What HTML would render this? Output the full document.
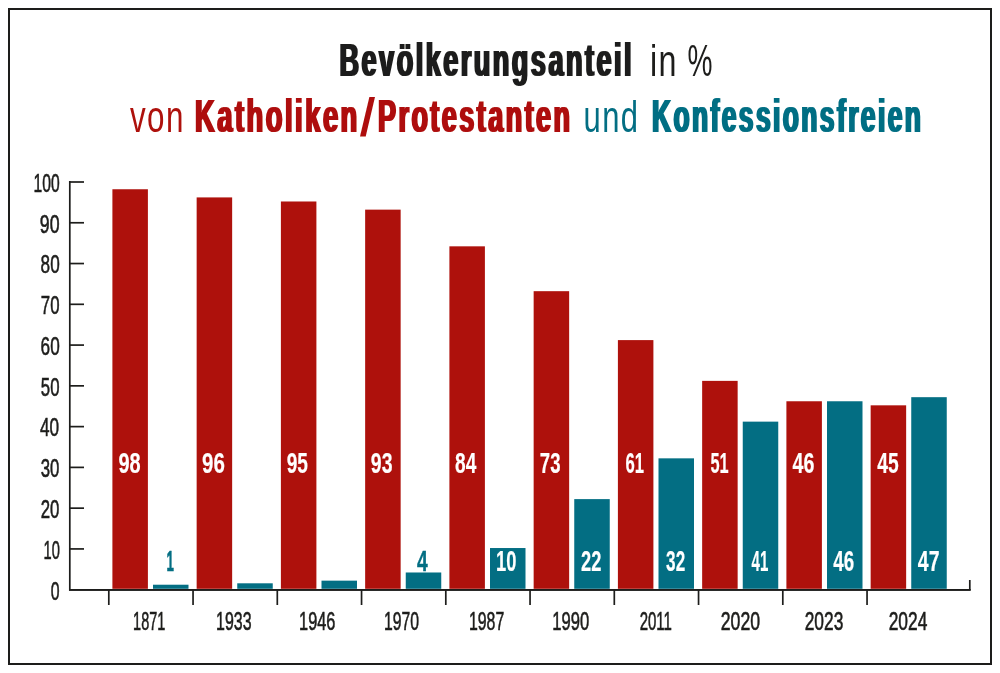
<!DOCTYPE html>
<html lang="de">
<head>
<meta charset="utf-8">
<title>Bevölkerungsanteil in % von Katholiken/Protestanten und Konfessionsfreien</title>
<style>
html,body{margin:0;padding:0;background:#fff;}
body{width:1000px;height:673px;overflow:hidden;}
svg{display:block;}
text{font-family:"Liberation Sans",sans-serif;}
</style>
</head>
<body>
<svg width="1000" height="673" viewBox="0 0 1000 673">
<defs>
<filter id="fat" x="-3%" y="-20%" width="106%" height="140%"><feMorphology operator="dilate" radius="1 0"/></filter>
</defs>
<rect x="0" y="0" width="1000" height="673" fill="#ffffff"/>
<rect x="9" y="9" width="982" height="655" fill="none" stroke="#1d1d1b" stroke-width="2"/>
<text x="339.5" y="75.6" font-size="46" fill="#1d1d1b" font-weight="bold" filter="url(#fat)" letter-spacing="4.2" textLength="294.5" lengthAdjust="spacingAndGlyphs">Bevölkerungsanteil</text>
<text x="650" y="75.6" font-size="44.7" fill="#1d1d1b" letter-spacing="2" textLength="28" lengthAdjust="spacingAndGlyphs">in</text>
<text x="687.6" y="75.6" font-size="44.7" fill="#1d1d1b" textLength="25" lengthAdjust="spacingAndGlyphs">%</text>
<text x="130" y="131.5" font-size="44.7" fill="#ae110c" letter-spacing="2" textLength="54.8" lengthAdjust="spacingAndGlyphs">von</text>
<text y="131.5" font-size="46" fill="#ae110c" font-weight="bold" filter="url(#fat)" letter-spacing="4.2"><tspan x="195" textLength="164.8" lengthAdjust="spacingAndGlyphs">Katholiken</tspan><tspan x="361" dy="4.2" font-size="54.5" font-weight="normal" letter-spacing="0" textLength="13" lengthAdjust="spacingAndGlyphs">/</tspan><tspan x="378" dy="-4.2" textLength="194.5" lengthAdjust="spacingAndGlyphs">Protestanten</tspan></text>
<text x="583.6" y="131.5" font-size="44.7" fill="#036e83" letter-spacing="2" textLength="55.8" lengthAdjust="spacingAndGlyphs">und</text>
<text x="652" y="131.5" font-size="46" fill="#036e83" font-weight="bold" filter="url(#fat)" letter-spacing="4.2" textLength="271.3" lengthAdjust="spacingAndGlyphs">Konfessionsfreien</text>
<g stroke="#1d1d1b" stroke-width="1.7" fill="none">
<path d="M69.8 181.1V589.8H970.6"/>
<path d="M969.8 589.8V580"/>
<path d="M69.8 548.93H84"/>
<path d="M69.8 508.16H84"/>
<path d="M69.8 467.39H84"/>
<path d="M69.8 426.62H84"/>
<path d="M69.8 385.85H84"/>
<path d="M69.8 345.08H84"/>
<path d="M69.8 304.31H84"/>
<path d="M69.8 263.54H84"/>
<path d="M69.8 222.77H84"/>
<path d="M69.8 182.0H84"/>
<path d="M108.8 589.8V605"/>
<path d="M193.05 589.8V605"/>
<path d="M277.3 589.8V605"/>
<path d="M361.55 589.8V605"/>
<path d="M445.8 589.8V605"/>
<path d="M530.05 589.8V605"/>
<path d="M614.3 589.8V605"/>
<path d="M698.55 589.8V605"/>
<path d="M782.8 589.8V605"/>
<path d="M867.05 589.8V605"/>
</g>
<rect x="112.4" y="189.25" width="35.5" height="399.55" fill="#ae110c"/>
<rect x="153.0" y="584.72" width="35.5" height="4.08" fill="#036e83"/>
<rect x="196.65" y="197.41" width="35.5" height="391.39" fill="#ae110c"/>
<rect x="237.25" y="583.3" width="35.5" height="5.5" fill="#036e83"/>
<rect x="280.9" y="201.49" width="35.5" height="387.31" fill="#ae110c"/>
<rect x="321.5" y="580.65" width="35.5" height="8.15" fill="#036e83"/>
<rect x="365.15" y="209.64" width="35.5" height="379.16" fill="#ae110c"/>
<rect x="405.75" y="572.49" width="35.5" height="16.31" fill="#036e83"/>
<rect x="449.4" y="246.33" width="35.5" height="342.47" fill="#ae110c"/>
<rect x="490.0" y="548.03" width="35.5" height="40.77" fill="#036e83"/>
<rect x="533.65" y="291.18" width="35.5" height="297.62" fill="#ae110c"/>
<rect x="574.25" y="499.11" width="35.5" height="89.69" fill="#036e83"/>
<rect x="617.9" y="340.1" width="35.5" height="248.7" fill="#ae110c"/>
<rect x="658.5" y="458.34" width="35.5" height="130.46" fill="#036e83"/>
<rect x="702.15" y="380.87" width="35.5" height="207.93" fill="#ae110c"/>
<rect x="742.75" y="421.64" width="35.5" height="167.16" fill="#036e83"/>
<rect x="786.4" y="401.26" width="35.5" height="187.54" fill="#ae110c"/>
<rect x="827.0" y="401.26" width="35.5" height="187.54" fill="#036e83"/>
<rect x="870.65" y="405.33" width="35.5" height="183.47" fill="#ae110c"/>
<rect x="911.25" y="397.18" width="35.5" height="191.62" fill="#036e83"/>
<path d="M69 589.8H970.6" stroke="#1d1d1b" stroke-width="1.7"/>
<text x="133.1" y="629.8" font-size="25.8" fill="#1d1d1b" stroke="#1d1d1b" stroke-width="0.6" textLength="32.22" lengthAdjust="spacingAndGlyphs">1871</text>
<text x="216.1" y="629.8" font-size="25.8" fill="#1d1d1b" stroke="#1d1d1b" stroke-width="0.6" textLength="35.4" lengthAdjust="spacingAndGlyphs">1933</text>
<text x="299.1" y="629.8" font-size="25.8" fill="#1d1d1b" stroke="#1d1d1b" stroke-width="0.6" textLength="36.31" lengthAdjust="spacingAndGlyphs">1946</text>
<text x="384.1" y="629.8" font-size="25.8" fill="#1d1d1b" stroke="#1d1d1b" stroke-width="0.6" textLength="35.01" lengthAdjust="spacingAndGlyphs">1970</text>
<text x="468.91" y="629.8" font-size="25.8" fill="#1d1d1b" stroke="#1d1d1b" stroke-width="0.6" textLength="35.3" lengthAdjust="spacingAndGlyphs">1987</text>
<text x="552.29" y="629.8" font-size="25.8" fill="#1d1d1b" stroke="#1d1d1b" stroke-width="0.6" textLength="36.96" lengthAdjust="spacingAndGlyphs">1990</text>
<text x="639.7" y="629.8" font-size="25.8" fill="#1d1d1b" stroke="#1d1d1b" stroke-width="0.6" textLength="32.25" lengthAdjust="spacingAndGlyphs">2011</text>
<text x="720.8" y="629.8" font-size="25.8" fill="#1d1d1b" stroke="#1d1d1b" stroke-width="0.6" textLength="39.28" lengthAdjust="spacingAndGlyphs">2020</text>
<text x="804.67" y="629.8" font-size="25.8" fill="#1d1d1b" stroke="#1d1d1b" stroke-width="0.6" textLength="38.63" lengthAdjust="spacingAndGlyphs">2023</text>
<text x="888.67" y="629.8" font-size="25.8" fill="#1d1d1b" stroke="#1d1d1b" stroke-width="0.6" textLength="38.67" lengthAdjust="spacingAndGlyphs">2024</text>
<text x="118.4" y="473.1" font-size="30.2" fill="#ffffff" font-weight="bold" stroke="#ffffff" stroke-width="0.2" textLength="22.23" lengthAdjust="spacingAndGlyphs">98</text>
<text x="202.0" y="473.1" font-size="30.2" fill="#ffffff" font-weight="bold" stroke="#ffffff" stroke-width="0.2" textLength="22.79" lengthAdjust="spacingAndGlyphs">96</text>
<text x="286.72" y="473.1" font-size="30.2" fill="#ffffff" font-weight="bold" stroke="#ffffff" stroke-width="0.2" textLength="21.28" lengthAdjust="spacingAndGlyphs">95</text>
<text x="370.86" y="473.1" font-size="30.2" fill="#ffffff" font-weight="bold" stroke="#ffffff" stroke-width="0.2" textLength="21.64" lengthAdjust="spacingAndGlyphs">93</text>
<text x="455.1" y="473.1" font-size="30.2" fill="#ffffff" font-weight="bold" stroke="#ffffff" stroke-width="0.2" textLength="21.27" lengthAdjust="spacingAndGlyphs">84</text>
<text x="539.86" y="473.1" font-size="30.2" fill="#ffffff" font-weight="bold" stroke="#ffffff" stroke-width="0.2" textLength="20.66" lengthAdjust="spacingAndGlyphs">73</text>
<text x="625.48" y="473.1" font-size="30.2" fill="#ffffff" font-weight="bold" stroke="#ffffff" stroke-width="0.2" textLength="18.52" lengthAdjust="spacingAndGlyphs">61</text>
<text x="710.48" y="473.1" font-size="30.2" fill="#ffffff" font-weight="bold" stroke="#ffffff" stroke-width="0.2" textLength="18.17" lengthAdjust="spacingAndGlyphs">51</text>
<text x="792.5" y="473.1" font-size="30.2" fill="#ffffff" font-weight="bold" stroke="#ffffff" stroke-width="0.2" textLength="21.85" lengthAdjust="spacingAndGlyphs">46</text>
<text x="877.3" y="473.1" font-size="30.2" fill="#ffffff" font-weight="bold" stroke="#ffffff" stroke-width="0.2" textLength="21.37" lengthAdjust="spacingAndGlyphs">45</text>
<text x="166.6" y="571.4" font-size="30.2" fill="#036e83" font-weight="bold" stroke="#036e83" stroke-width="0.6" textLength="7.4" lengthAdjust="spacingAndGlyphs">1</text>
<text x="417" y="571.4" font-size="30.2" fill="#036e83" font-weight="bold" stroke="#036e83" stroke-width="0.4" textLength="10.69" lengthAdjust="spacingAndGlyphs">4</text>
<text x="496.1" y="571.4" font-size="30.2" fill="#ffffff" font-weight="bold" stroke="#ffffff" stroke-width="0.2" textLength="20.4" lengthAdjust="spacingAndGlyphs">10</text>
<text x="581" y="571.4" font-size="30.2" fill="#ffffff" font-weight="bold" stroke="#ffffff" stroke-width="0.2" textLength="20.4" lengthAdjust="spacingAndGlyphs">22</text>
<text x="666.1" y="571.4" font-size="30.2" fill="#ffffff" font-weight="bold" stroke="#ffffff" stroke-width="0.2" textLength="19.08" lengthAdjust="spacingAndGlyphs">32</text>
<text x="751.5" y="571.4" font-size="30.2" fill="#ffffff" font-weight="bold" stroke="#ffffff" stroke-width="0.2" textLength="16.76" lengthAdjust="spacingAndGlyphs">41</text>
<text x="833.3" y="571.4" font-size="30.2" fill="#ffffff" font-weight="bold" stroke="#ffffff" stroke-width="0.2" textLength="20.83" lengthAdjust="spacingAndGlyphs">46</text>
<text x="917.86" y="571.4" font-size="30.2" fill="#ffffff" font-weight="bold" stroke="#ffffff" stroke-width="0.2" textLength="21.64" lengthAdjust="spacingAndGlyphs">47</text>
<text x="33.6" y="191.8" font-size="25.8" fill="#1d1d1b" stroke="#1d1d1b" stroke-width="0.6" textLength="26.1" lengthAdjust="spacingAndGlyphs">100</text>
<text x="39.86" y="232.57" font-size="25.8" fill="#1d1d1b" stroke="#1d1d1b" stroke-width="0.6" textLength="19.72" lengthAdjust="spacingAndGlyphs">90</text>
<text x="40.6" y="273.34" font-size="25.8" fill="#1d1d1b" stroke="#1d1d1b" stroke-width="0.6" textLength="19.1" lengthAdjust="spacingAndGlyphs">80</text>
<text x="40.86" y="314.11" font-size="25.8" fill="#1d1d1b" stroke="#1d1d1b" stroke-width="0.6" textLength="18.66" lengthAdjust="spacingAndGlyphs">70</text>
<text x="40.6" y="354.88" font-size="25.8" fill="#1d1d1b" stroke="#1d1d1b" stroke-width="0.6" textLength="19.1" lengthAdjust="spacingAndGlyphs">60</text>
<text x="40.86" y="395.65" font-size="25.8" fill="#1d1d1b" stroke="#1d1d1b" stroke-width="0.6" textLength="18.66" lengthAdjust="spacingAndGlyphs">50</text>
<text x="40" y="436.42" font-size="25.8" fill="#1d1d1b" stroke="#1d1d1b" stroke-width="0.6" textLength="19.13" lengthAdjust="spacingAndGlyphs">40</text>
<text x="40.7" y="477.19" font-size="25.8" fill="#1d1d1b" stroke="#1d1d1b" stroke-width="0.6" textLength="18.68" lengthAdjust="spacingAndGlyphs">30</text>
<text x="40.7" y="517.96" font-size="25.8" fill="#1d1d1b" stroke="#1d1d1b" stroke-width="0.6" textLength="18.68" lengthAdjust="spacingAndGlyphs">20</text>
<text x="43.6" y="558.73" font-size="25.8" fill="#1d1d1b" stroke="#1d1d1b" stroke-width="0.6" textLength="16.32" lengthAdjust="spacingAndGlyphs">10</text>
<text x="50.7" y="599.5" font-size="25.8" fill="#1d1d1b" stroke="#1d1d1b" stroke-width="0.6" textLength="8.8" lengthAdjust="spacingAndGlyphs">0</text>
</svg>
</body>
</html>
